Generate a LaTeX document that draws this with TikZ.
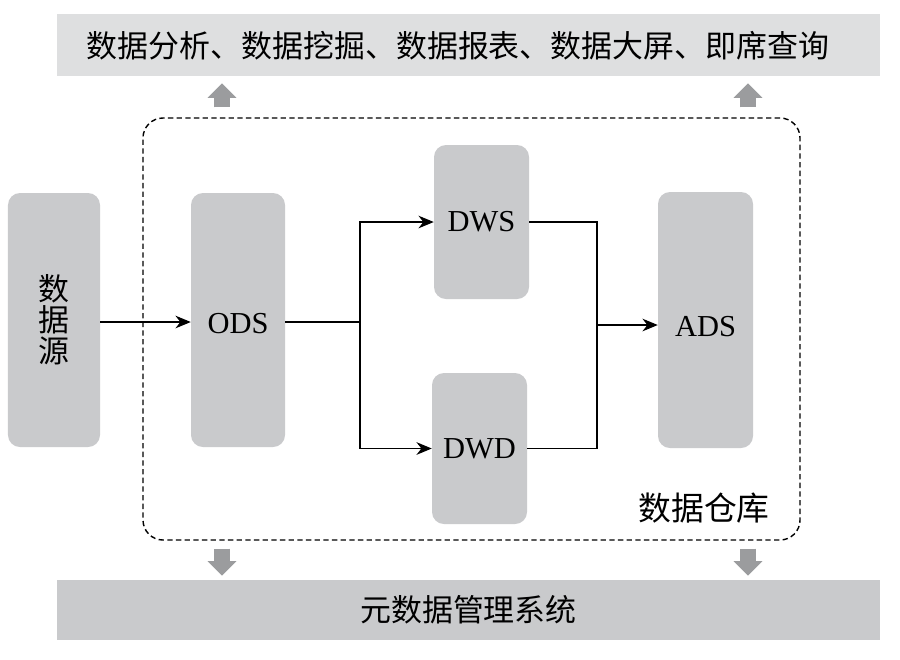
\documentclass[tikz,border=0pt]{standalone}
\usepackage{fontspec}
\setmainfont{Liberation Serif}
\newfontfamily\cjk{Noto Sans CJK SC}
\usetikzlibrary{arrows.meta, positioning}

\definecolor{bargray}{HTML}{DEDFE0}
\definecolor{boxgray}{HTML}{C9CACC}
\definecolor{arrowgray}{HTML}{9B9C9E}

\begin{document}
\begin{tikzpicture}[x=0.03cm, y=-0.03cm,
    layer/.style={fill=boxgray, rounded corners=0.36cm, inner sep=0pt,
        font=\fontsize{26pt}{27pt}\selectfont},
    zh/.style={font=\cjk\fontsize{26.4pt}{26.4pt}\selectfont},
    bar/.style={minimum width=24.69cm, inner sep=0pt},
    flow/.style={line width=1pt, -{Stealth[length=0.46cm, width=0.38cm]}},
    link/.style={line width=1pt},
    bigarrow/.style={draw=arrowgray, line width=0.46cm,
        -{Triangle[width=0.84cm, length=0.44cm]}}]
    \fill[white] (0,0) rectangle (900,659);
    \useasboundingbox (0,0) rectangle (900,659);

    % Top and bottom bars
    \node[bar, fill=bargray, minimum height=1.86cm] (apps) at (468.5,45) {};
    \node[zh] (appstext) at (458,46) {数据分析、数据挖掘、数据报表、数据大屏、即席查询};
    \node[bar, fill=boxgray, minimum height=1.8cm, zh] (meta) at (468.5,610)
        {元数据管理系统};

    % Warehouse frame
    \node[draw, line width=1.2pt, dash pattern=on 0.16cm off 0.1cm,
        rounded corners=0.6cm, minimum width=19.71cm, minimum height=12.66cm]
        (dw) at (471.5,329) {};
    \node[zh, font=\cjk\fontsize{28pt}{28pt}\selectfont] (dwlabel) at (704,508) {数据仓库};

    % Layers
    \node[layer, zh, align=center, minimum width=2.76cm, minimum height=7.62cm]
        (src) at (54,320) {数\\据\\源};
    \node[layer, minimum width=2.82cm, minimum height=7.62cm] (ods) at (238,320)
        {\raisebox{-0.12cm}[\height][\depth]{ODS}};
    \node[layer, minimum width=2.85cm, minimum height=4.62cm] (dws) at (481.5,222) {DWS};
    \node[layer, minimum width=2.85cm, minimum height=4.53cm] (dwd) at (479.5,448.5) {DWD};
    \node[layer, minimum width=2.85cm, minimum height=7.68cm] (ads) at (705.5,320)
        {\raisebox{-0.2cm}[\height][\depth]{ADS}};

    % Data flow
    \coordinate (fork) at (360,322);
    \coordinate (join) at (597,325);
    \draw[flow] (src.east |- fork) -- (ods.west |- fork);
    \draw[link] (ods.east |- fork) -- (fork);
    \draw[flow] (fork) |- (dws);
    \draw[flow] (fork) |- (dwd);
    \draw[link] (dws) -| (join);
    \draw[link] (dwd) -| (join);
    \draw[flow] (join) -- (ads.west |- join);

    % Block arrows to the bars
    \foreach \x in {222,748} {
        \draw[bigarrow, shorten <=0.3cm, shorten >=0.21cm]
            (\x,0 |- dw.north) -- (\x,0 |- apps.south);
        \draw[bigarrow, shorten <=0.24cm, shorten >=0.12cm]
            (\x,0 |- dw.south) -- (\x,0 |- meta.north);
    }
\end{tikzpicture}
\end{document}
